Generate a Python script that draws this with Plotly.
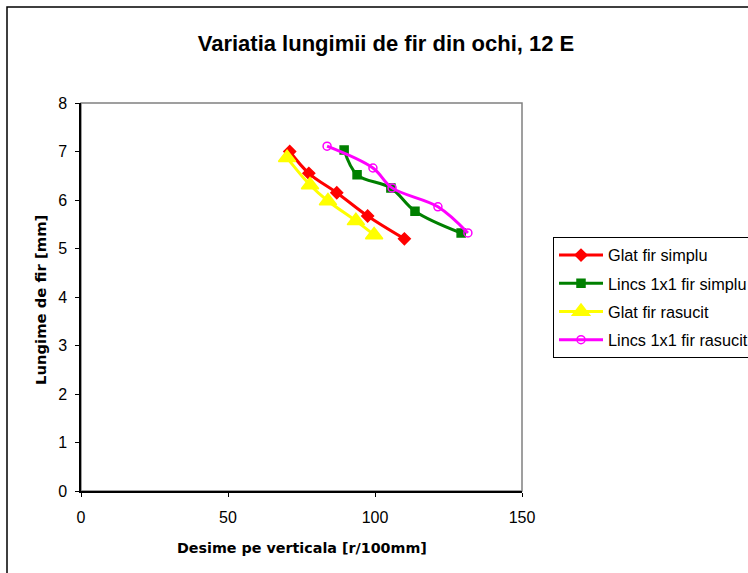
import plotly.graph_objects as go

# Data
glat_simplu_x = [71, 77.5, 87, 97.5, 110]
glat_simplu_y = [7.0, 6.55, 6.15, 5.67, 5.2]

lincs_simplu_x = [89.5, 93.9, 105.4, 113.6, 129.3]
lincs_simplu_y = [7.03, 6.52, 6.25, 5.77, 5.32]

glat_rasucit_x = [70.1, 77.9, 84.0, 93.5, 99.7]
glat_rasucit_y = [6.87, 6.31, 5.98, 5.57, 5.28]

lincs_rasucit_x = [83.7, 99.3, 105.8, 121.4, 131.6]
lincs_rasucit_y = [7.11, 6.66, 6.25, 5.86, 5.32]

series_names = ["Glat fir simplu", "Lincs 1x1 fir simplu", "Glat fir rasucit", "Lincs 1x1 fir rasucit"]
x_ticks = [0, 50, 100, 150]
y_ticks = [0, 1, 2, 3, 4, 5, 6, 7, 8]

FONT = "Arial, Liberation Sans, sans-serif"
WIDE = "DejaVu Sans, Arial, sans-serif"

fig = go.Figure()

styles = [
    dict(color="#FF0000", symbol="diamond", size=9, fill="#FF0000"),
    dict(color="#008000", symbol="square", size=8, fill="#008000"),
    dict(color="#FFFF00", symbol="triangle-up", size=15, fill="#FFFF00"),
    dict(color="#FF00FF", symbol="circle-open", size=8, fill="#FF00FF"),
]
data = [
    (glat_simplu_x, glat_simplu_y),
    (lincs_simplu_x, lincs_simplu_y),
    (glat_rasucit_x, glat_rasucit_y),
    (lincs_rasucit_x, lincs_rasucit_y),
]

for i, ((xs, ys), name, st) in enumerate(zip(data, series_names, styles)):
    fig.add_trace(go.Scatter(
        x=xs, y=ys, name=name, mode="lines+markers",
        line=dict(color=st["color"], width=3, shape="spline", smoothing=1),
        marker=dict(symbol=st["symbol"], size=st["size"], color=st["fill"],
                    line=dict(color=st["color"], width=1.5)),
        legendgroup=f"g{i}",
    ))

fig.update_layout(
    width=748, height=573,
    margin=dict(l=81, r=748 - 522, t=103, b=573 - 491, autoexpand=False),
    paper_bgcolor="white", plot_bgcolor="white",
    font=dict(family=FONT, size=16, color="black"),
    title=dict(text="<b>Variatia lungimii de fir din ochi, 12 E</b>",
               font=dict(family=FONT, size=22, color="black"),
               x=(386 - 81) / 441, xref="paper", xanchor="center",
               y=1 - 43 / 573, yref="container", yanchor="middle"),
    showlegend=True,
    legend=dict(x=(553 - 81) / 441, y=(491 - 237) / 388, xanchor="left", yanchor="top",
                bgcolor="white", bordercolor="black", borderwidth=1,
                font=dict(family=FONT, size=16.3, color="black"),
                tracegroupgap=4, traceorder="grouped", itemwidth=44),
    xaxis=dict(range=[0, 150], tickvals=x_ticks, ticks="outside", ticklen=4,
               tickcolor="black", showline=True, linecolor="black", linewidth=1.5,
               showgrid=False, zeroline=False, tickfont=dict(size=16),
               ticklabelstandoff=7),
    yaxis=dict(range=[0, 8], tickvals=y_ticks, ticks="outside", ticklen=4,
               tickcolor="black", showline=True, linecolor="black", linewidth=1.5,
               showgrid=False, zeroline=False, tickfont=dict(size=16),
               ticklabelstandoff=5),
    shapes=[
        # plot area border (gray)
        dict(type="rect", xref="paper", yref="paper", x0=0, y0=0, x1=1, y1=1,
             line=dict(color="#808080", width=1.5), layer="below"),
        # chart area border
        dict(type="rect", xref="paper", yref="paper",
             x0=(7 - 81) / 441, y0=-1, x1=2, y1=1 + (103 - 7) / 388,
             line=dict(color="black", width=1.5), layer="below"),
    ],
    annotations=[
        dict(text="<b>Desime pe verticala [r/100mm]</b>", xref="paper", yref="paper",
             x=(302 - 81) / 441, y=(491 - 548) / 388, showarrow=False,
             xanchor="center", yanchor="middle", font=dict(family=WIDE, size=14.3)),
        dict(text="<b>Lungime de fir [mm]</b>", xref="paper", yref="paper",
             x=(40 - 81) / 441, y=(491 - 300) / 388, showarrow=False, textangle=-90,
             xanchor="center", yanchor="middle", font=dict(family=WIDE, size=14.8)),
    ],
)

fig.write_html("out.html")
